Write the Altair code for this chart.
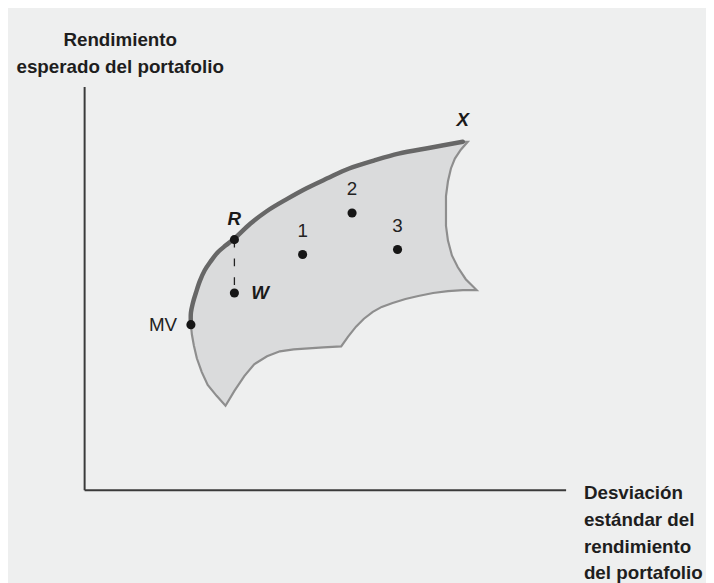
import altair as alt
import pandas as pd

# Efficient frontier (MV -> X), in chart units
frontier_x = [10.8, 10.8, 11.0, 11.3, 11.7, 12.2, 12.8, 13.5, 14.3, 15.2, 16.8, 18.5,
              20.5, 22.5, 24.6, 26.8, 29.3, 31.8, 35.0, 38.3]
frontier_y = [16.7, 17.9, 18.9, 19.9, 21.1, 22.2, 23.1, 24.0, 24.7, 25.4, 26.9, 28.2,
              29.4, 30.5, 31.5, 32.5, 33.3, 34.0, 34.6, 35.2]

# Remaining outline of the feasible region (X corner -> right edge -> bottom -> back to MV)
edge_x = [38.8, 38.1, 37.5, 37.1, 36.8, 36.6, 36.6, 36.6, 36.8, 37.2, 37.8, 38.6, 39.7,
          38.3, 36.8, 35.3, 33.8, 32.5, 31.2, 30.1, 29.2, 28.3, 27.5, 26.7, 26.0,
          24.2, 22.7, 21.2, 19.8, 18.5, 17.2, 16.2, 15.2, 14.3,
          13.4, 12.5, 11.9, 11.4, 11.1, 10.9, 10.8]
edge_y = [35.2, 34.4, 33.5, 32.5, 31.2, 29.7, 28.2, 26.7, 25.2, 23.7, 22.5, 21.3, 20.2,
          20.2, 20.1, 19.9, 19.6, 19.3, 18.9, 18.5, 18.0, 17.3, 16.5, 15.5, 14.5,
          14.4, 14.3, 14.2, 14.0, 13.5, 12.7, 11.5, 10.0, 8.5,
          9.5, 10.6, 11.9, 13.3, 14.6, 15.7, 16.7]

# Portfolios
point_names = ["MV", "R", "W", "1", "2", "3"]
point_x = [10.8, 15.2, 15.2, 22.1, 27.1, 31.7]
point_y = [16.7, 25.3, 19.9, 23.8, 28.0, 24.3]

x_title = ["Desviación", "estándar del", "rendimiento", "del portafolio"]
y_title = ["Rendimiento", "esperado del portafolio"]

FONT = "Liberation Sans, Arial, sans-serif"

region = pd.DataFrame({
    "x": frontier_x + edge_x,
    "y": frontier_y + edge_y,
    "o": list(range(len(frontier_x) + len(edge_x))),
})
front = pd.DataFrame({"x": frontier_x, "y": frontier_y, "o": list(range(len(frontier_x)))})
pts = pd.DataFrame({"name": point_names, "x": point_x, "y": point_y})
xpt = pd.DataFrame({"name": ["X"], "x": [frontier_x[-1]], "y": [frontier_y[-1]]})

xs = alt.Scale(domain=[0, 48.7], nice=False, zero=False)
ys = alt.Scale(domain=[0, 40.8], nice=False, zero=False)

xaxis = alt.Axis(ticks=False, labels=False, grid=False, domainColor="#3a3a3a", domainWidth=2,
                 title=x_title, titleFont=FONT, titleFontSize=19, titleFontWeight="bold",
                 titleColor="#1e1e1e", titleAngle=0, titleAlign="left", titleBaseline="alphabetic",
                 titleX=505, titleY=9, titleLineHeight=27)
yaxis = alt.Axis(ticks=False, labels=False, grid=False, domainColor="#3a3a3a", domainWidth=2,
                 title=y_title, titleFont=FONT, titleFontSize=19, titleFontWeight="bold",
                 titleColor="#1e1e1e", titleAngle=0, titleAlign="center", titleBaseline="alphabetic",
                 titleX=36, titleY=-41, titleLineHeight=27)

base_region = alt.Chart(region).mark_line(
    fill="#dadbdc", stroke="#8e8e8e", strokeWidth=2.2, strokeJoin="miter"
).encode(
    x=alt.X("x:Q", scale=xs, axis=xaxis),
    y=alt.Y("y:Q", scale=ys, axis=yaxis),
    order="o:Q",
)

frontier = alt.Chart(front).mark_line(
    stroke="#676767", strokeWidth=4.5, interpolate="catmull-rom", strokeCap="round"
).encode(x=alt.X("x:Q", scale=xs), y=alt.Y("y:Q", scale=ys), order="o:Q")

dash = alt.Chart(pd.DataFrame({"x": [point_x[1]], "y": [point_y[1]], "y2": [point_y[2]]})).mark_rule(
    color="#222222", strokeWidth=1.3, strokeDash=[8, 11]
).encode(x=alt.X("x:Q", scale=xs), y=alt.Y("y:Q", scale=ys), y2="y2:Q")

dots = alt.Chart(pts).mark_circle(size=85, color="#161616", opacity=1).encode(
    x=alt.X("x:Q", scale=xs), y=alt.Y("y:Q", scale=ys)
)

def lab(names, **kw):
    return alt.Chart(pts[pts["name"].isin(names)]).mark_text(**kw).encode(
        x=alt.X("x:Q", scale=xs), y=alt.Y("y:Q", scale=ys), text="name:N"
    )

nums = lab(["1", "2", "3"], font=FONT, fontSize=19, color="#222222", dy=-24, baseline="middle")
mv = lab(["MV"], font=FONT, fontSize=19, color="#222222", dx=-14, align="right", baseline="middle")
rlab = lab(["R"], font=FONT, fontSize=19, fontWeight="bold", fontStyle="italic", color="#1a1a1a",
           dy=-21, baseline="middle")
wlab = lab(["W"], font=FONT, fontSize=19, fontWeight="bold", fontStyle="italic", color="#1a1a1a",
           dx=17, align="left", baseline="middle")
xlab = alt.Chart(xpt).mark_text(font=FONT, fontSize=19, fontWeight="bold", fontStyle="italic",
                                color="#1a1a1a", dy=-22, baseline="middle").encode(
    x=alt.X("x:Q", scale=xs), y=alt.Y("y:Q", scale=ys), text="name:N"
)

chart = alt.layer(base_region, frontier, dash, dots, nums, mv, rlab, wlab, xlab).properties(
    width=487, height=408,
    autosize=alt.AutoSizeParams(type="none"),
    padding={"left": 77, "top": 76, "right": 142, "bottom": 91},
    background="#eeefef",
).configure_view(stroke=None)

chart.save("out.html", embed_options={"renderer": "svg", "actions": False})
